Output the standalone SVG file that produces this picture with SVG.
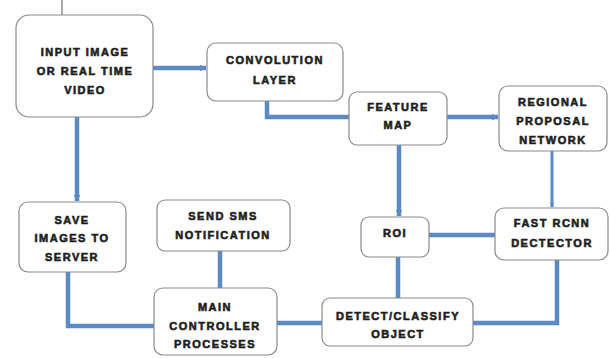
<svg xmlns="http://www.w3.org/2000/svg" width="610" height="358" viewBox="0 0 610 358">
  <style>
    .box { fill: #ffffff; stroke: #8a8a8a; stroke-width: 1.2; }
    .lbl { font-family: "Liberation Sans", Arial, sans-serif; font-weight: bold; font-size: 11px; letter-spacing: 1.5px; fill: #1e1e1e; stroke: #1e1e1e; stroke-width: 0.6; text-anchor: middle; }
    .wire { fill: none; stroke: #5b89c4; stroke-width: 4.5; stroke-linejoin: miter; }
    .thin { fill: none; stroke: #5b89c4; stroke-width: 3; }
  </style>
  <defs>
    <marker id="tip" viewBox="0 0 6 6" refX="5.5" refY="3" markerWidth="1.5" markerHeight="1.5" orient="auto" markerUnits="strokeWidth">
      <path d="M0,0 L6,3 L0,6 Z" fill="#5b89c4"/>
    </marker>
  </defs>
  <rect width="610" height="358" fill="#ffffff"/>

  <!-- small tick above the input box -->
  <line x1="62" y1="0" x2="62" y2="16" stroke="#555555" stroke-width="1"/>

  <g id="connectors">
    <path class="wire" d="M153,68 H206" marker-end="url(#tip)"/>
    <path class="wire" d="M267,101 V117 H349"/>
    <path class="wire" d="M447,117 H498" marker-end="url(#tip)"/>
    <path class="wire" d="M77,117 V201" marker-end="url(#tip)"/>
    <path class="wire" d="M399,145 V216" marker-end="url(#tip)"/>
    <path class="thin" d="M552,151 V207" marker-end="url(#tip)"/>
    <path class="wire" d="M495,235 H429"/>
    <path class="wire" d="M398,257 V298"/>
    <path class="wire" d="M557,260 V323 H473"/>
    <path class="wire" d="M322,323 H277"/>
    <path class="wire" d="M220,288 V251"/>
    <path class="wire" d="M154,326 H68 V272"/>
  </g>

  <g id="input-image">
    <rect class="box" x="16" y="15" width="137" height="102" rx="13"/>
    <text class="lbl" x="85" y="56">INPUT IMAGE</text>
    <text class="lbl" x="85" y="75">OR REAL TIME</text>
    <text class="lbl" x="85" y="94">VIDEO</text>
  </g>

  <g id="convolution-layer">
    <rect class="box" x="207" y="43" width="136" height="58" rx="9"/>
    <text class="lbl" x="275" y="64">CONVOLUTION</text>
    <text class="lbl" x="275" y="84">LAYER</text>
  </g>

  <g id="feature-map">
    <rect class="box" x="349" y="92" width="98" height="53" rx="8"/>
    <text class="lbl" x="398" y="111">FEATURE</text>
    <text class="lbl" x="398" y="129">MAP</text>
  </g>

  <g id="regional-proposal-network">
    <rect class="box" x="499" y="86" width="108" height="65" rx="9"/>
    <text class="lbl" x="553" y="106">REGIONAL</text>
    <text class="lbl" x="553" y="125">PROPOSAL</text>
    <text class="lbl" x="553" y="144">NETWORK</text>
  </g>

  <g id="roi">
    <rect class="box" x="361" y="217" width="68" height="40" rx="8"/>
    <text class="lbl" x="395" y="237">ROI</text>
  </g>

  <g id="fast-rcnn-detector">
    <rect class="box" x="495" y="208" width="113" height="52" rx="9"/>
    <text class="lbl" x="552" y="227">FAST RCNN</text>
    <text class="lbl" x="552" y="247">DECTECTOR</text>
  </g>

  <g id="detect-classify">
    <rect class="box" x="322" y="298" width="151" height="48" rx="8"/>
    <text class="lbl" x="398" y="320">DETECT/CLASSIFY</text>
    <text class="lbl" x="398" y="338">OBJECT</text>
  </g>

  <g id="main-controller">
    <rect class="box" x="154" y="288" width="123" height="67" rx="9"/>
    <text class="lbl" x="215" y="311">MAIN</text>
    <text class="lbl" x="215" y="330">CONTROLLER</text>
    <text class="lbl" x="215" y="348">PROCESSES</text>
  </g>

  <g id="send-sms">
    <rect class="box" x="157" y="200" width="133" height="51" rx="8"/>
    <text class="lbl" x="223" y="220">SEND SMS</text>
    <text class="lbl" x="223" y="239">NOTIFICATION</text>
  </g>

  <g id="save-images">
    <rect class="box" x="19" y="202" width="107" height="70" rx="9"/>
    <text class="lbl" x="72" y="224">SAVE</text>
    <text class="lbl" x="72" y="242">IMAGES TO</text>
    <text class="lbl" x="72" y="261">SERVER</text>
  </g>
</svg>
